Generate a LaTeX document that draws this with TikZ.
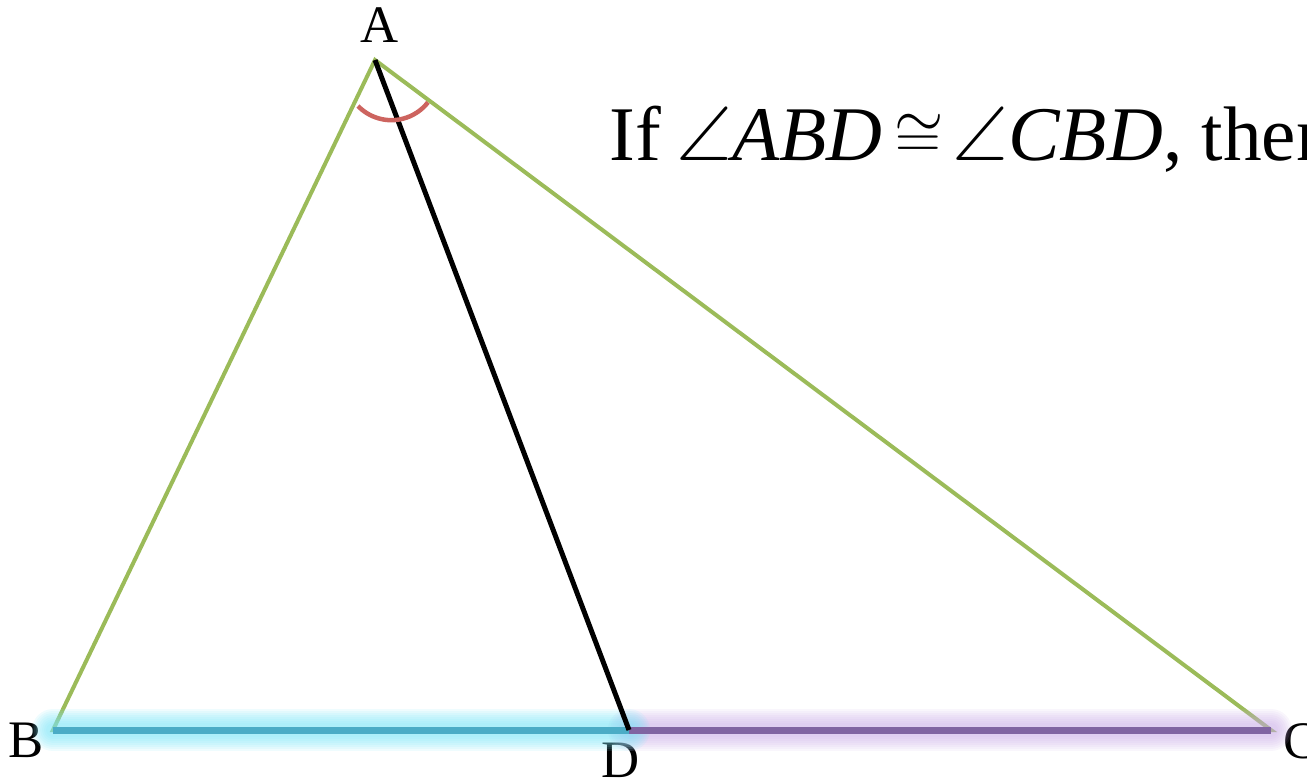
\documentclass[tikz,border=0pt]{standalone}
\usepackage{amsmath,amssymb}
\usepackage{graphicx}
\usepackage{fontspec}
\setmainfont{Liberation Serif}
\usepackage{xcolor}
\usetikzlibrary{positioning}
\definecolor{sideGreen}{HTML}{9BBB59}
\definecolor{segTeal}{HTML}{4BACC6}
\definecolor{segPurple}{HTML}{8064A2}
\definecolor{glowCyan}{HTML}{7FE6F8}
\definecolor{glowPurple}{HTML}{C8AAE6}
\definecolor{arcRed}{HTML}{CD645F}

\begin{document}
\begin{tikzpicture}[
  x=0.02cm, y=-0.02cm,
  vtx/.style={coordinate},
  side/.style={draw=sideGreen, line width=0.08cm, line cap=round},
  seg/.style={line width=0.14cm},
  lbl/.style={inner sep=0pt, anchor=base, font=\fontsize{30}{36}\selectfont},
  claim/.style={inner sep=0pt, anchor=base west, font=\fontsize{44}{50}\selectfont}
]
\useasboundingbox (0,0) rectangle (1307,782);
\clip (0,0) rectangle (1307,782);

% vertices
\node[vtx] (A) at (375,60) {};
\node[vtx] (B) at (53,730) {};
\node[vtx] (D) at (629,730) {};
\node[vtx] (C) at (1271,730) {};

% labels
\node[lbl] (la) at (380,42) {A};
\node[lbl] (lb) at (26,757) {B};
\node[lbl] (ld) at (621,777) {D};
\node[lbl] (lc) at (1301,758) {C};

% statement
\node[claim] (txt) at (609,160)
  {If\hspace{0.2em}$\angle$\textit{ABD}\hspace{0.15em}\raisebox{0.03em}{\scalebox{1.45}{$\cong$}}\hspace{0.12em}$\angle$\textit{CBD}, then};

% triangle
\draw[side] (A) -- (B) -- (C) -- cycle;

% glow on the base
\foreach \w in {42,38,...,14} {
  \draw[line width=\w*0.02cm, draw=glowPurple, opacity=0.1, line cap=round] (D) -- (C);
}
\foreach \w in {42,38,...,14} {
  \draw[line width=\w*0.02cm, draw=glowCyan, opacity=0.12, line cap=round] (B) -- (D);
}
\draw[seg, draw=segPurple] (D) -- (C);
\draw[seg, draw=segTeal] (B) -- (D);

% bisector and angle mark
\draw[line width=0.1cm] (A) -- (D);
\draw[draw=arcRed, line width=0.09cm] (358,106) arc[start angle=136, end angle=38, radius=46.4];
\end{tikzpicture}
\end{document}
